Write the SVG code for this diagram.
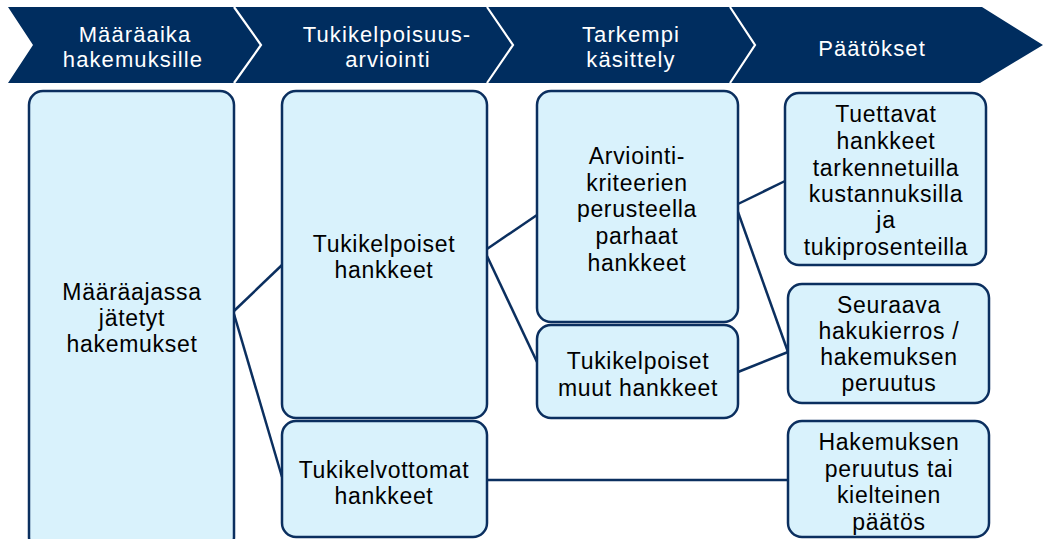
<svg xmlns="http://www.w3.org/2000/svg" width="1044" height="539" viewBox="0 0 1044 539">
<style>
.box{fill:#d9f2fc;stroke:#0b2f5f;stroke-width:2.5}
.conn{stroke:#0b2f5f;stroke-width:2.5;fill:none}
.div{stroke:#ffffff;stroke-width:2.2;fill:none}
.ht{font-family:"Liberation Sans",Arial,sans-serif;font-size:22px;letter-spacing:1.1px;fill:#ffffff;text-anchor:middle}
.bt{font-family:"Liberation Sans",Arial,sans-serif;font-size:23px;letter-spacing:0.7px;fill:#000000;text-anchor:middle}
</style>
<rect width="1044" height="539" fill="#ffffff"/>
<g id="header">
<polygon points="8,7 982,7 1043,45 980,83 8,83 33,45" fill="#002d5f"/>
<polyline class="div" points="234,7 261,45 234,83"/>
<polyline class="div" points="487,7 513,45 487,83"/>
<polyline class="div" points="730,7 755,45 730,83"/>
<text class="ht" x="135" y="42">Määräaika</text>
<text class="ht" x="133" y="67">hakemuksille</text>
<text class="ht" x="387" y="42">Tukikelpoisuus-</text>
<text class="ht" x="388" y="67">arviointi</text>
<text class="ht" x="631" y="42">Tarkempi</text>
<text class="ht" x="631" y="67">käsittely</text>
<text class="ht" x="872" y="56">Päätökset</text>
</g>
<g id="connectors">
<line class="conn" x1="234" y1="311" x2="282" y2="265"/>
<line class="conn" x1="234" y1="314" x2="282" y2="477"/>
<line class="conn" x1="487" y1="249" x2="537" y2="215"/>
<line class="conn" x1="487" y1="256" x2="537" y2="362"/>
<line class="conn" x1="738" y1="204" x2="785" y2="181"/>
<line class="conn" x1="738" y1="212" x2="788" y2="352"/>
<line class="conn" x1="738" y1="372" x2="788" y2="352"/>
<line class="conn" x1="487" y1="480" x2="788" y2="480"/>
</g>
<g id="node-maaraajassa">
<rect class="box" x="29" y="91" width="205" height="460" rx="14"/>
<text class="bt" x="132" y="300">Määräajassa</text>
<text class="bt" x="132" y="326">jätetyt</text>
<text class="bt" x="132" y="352">hakemukset</text>
</g>
<g id="node-tukikelpoiset">
<rect class="box" x="282" y="91" width="205" height="327" rx="14"/>
<text class="bt" x="384" y="252">Tukikelpoiset</text>
<text class="bt" x="384" y="278">hankkeet</text>
</g>
<g id="node-tukikelvottomat">
<rect class="box" x="282" y="421" width="205" height="116" rx="14"/>
<text class="bt" x="384" y="478">Tukikelvottomat</text>
<text class="bt" x="384" y="504">hankkeet</text>
</g>
<g id="node-arviointi">
<rect class="box" x="537" y="91" width="201" height="231" rx="14"/>
<text class="bt" x="637" y="164">Arviointi-</text>
<text class="bt" x="637" y="191">kriteerien</text>
<text class="bt" x="637" y="217">perusteella</text>
<text class="bt" x="637" y="244">parhaat</text>
<text class="bt" x="637" y="271">hankkeet</text>
</g>
<g id="node-muut">
<rect class="box" x="537" y="325" width="201" height="93" rx="14"/>
<text class="bt" x="638" y="369">Tukikelpoiset</text>
<text class="bt" x="638" y="396">muut hankkeet</text>
</g>
<g id="node-tuettavat">
<rect class="box" x="785" y="93" width="201" height="172" rx="14"/>
<text class="bt" x="886" y="122">Tuettavat</text>
<text class="bt" x="886" y="149">hankkeet</text>
<text class="bt" x="886" y="176">tarkennetuilla</text>
<text class="bt" x="886" y="202">kustannuksilla</text>
<text class="bt" x="886" y="228">ja</text>
<text class="bt" x="886" y="255">tukiprosenteilla</text>
</g>
<g id="node-seuraava">
<rect class="box" x="788" y="284" width="201" height="119" rx="14"/>
<text class="bt" x="889" y="313">Seuraava</text>
<text class="bt" x="889" y="339">hakukierros /</text>
<text class="bt" x="889" y="365">hakemuksen</text>
<text class="bt" x="889" y="391">peruutus</text>
</g>
<g id="node-hakemuksen">
<rect class="box" x="788" y="421" width="201" height="116" rx="14"/>
<text class="bt" x="889" y="450">Hakemuksen</text>
<text class="bt" x="889" y="477">peruutus tai</text>
<text class="bt" x="889" y="503">kielteinen</text>
<text class="bt" x="889" y="530">päätös</text>
</g>
</svg>
